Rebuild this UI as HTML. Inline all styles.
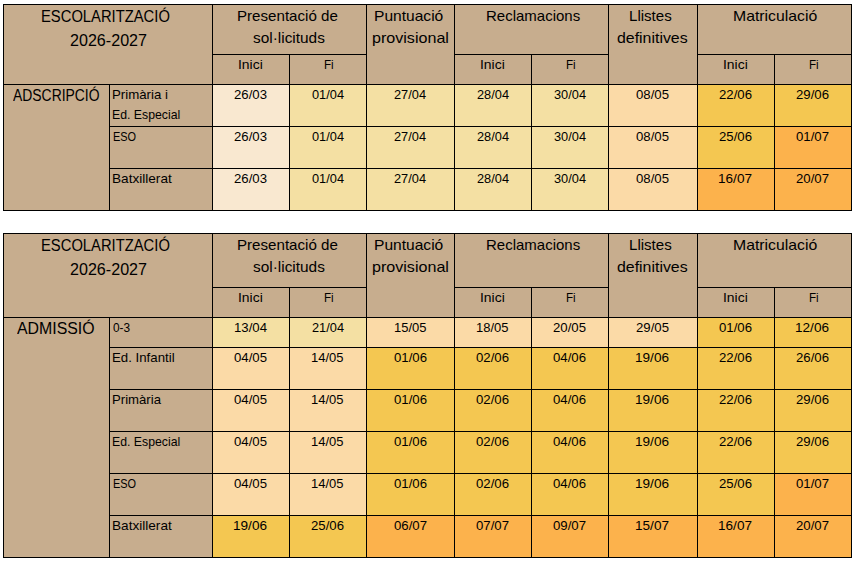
<!DOCTYPE html>
<html lang="ca"><head><meta charset="utf-8"><title>Escolarització 2026-2027</title>
<style>
html,body{margin:0;padding:0;background:#fff;}
body{width:857px;height:562px;position:relative;overflow:hidden;font-family:"Liberation Sans", sans-serif;color:#000;}
.r{position:absolute;}
.t{position:absolute;white-space:pre;line-height:1;transform-origin:0 0;}
</style></head><body>
<div class="r" style="left:3px;top:4px;width:849px;height:207px;background:#000"></div>
<div class="r" style="left:4px;top:5px;width:208px;height:79px;background:#c7ad8e"></div>
<div class="r" style="left:213px;top:5px;width:153px;height:49px;background:#c7ad8e"></div>
<div class="r" style="left:213px;top:55px;width:76px;height:29px;background:#c7ad8e"></div>
<div class="r" style="left:290px;top:55px;width:76px;height:29px;background:#c7ad8e"></div>
<div class="r" style="left:367px;top:5px;width:87px;height:79px;background:#c7ad8e"></div>
<div class="r" style="left:455px;top:5px;width:153px;height:49px;background:#c7ad8e"></div>
<div class="r" style="left:455px;top:55px;width:76px;height:29px;background:#c7ad8e"></div>
<div class="r" style="left:532px;top:55px;width:76px;height:29px;background:#c7ad8e"></div>
<div class="r" style="left:609px;top:5px;width:88px;height:79px;background:#c7ad8e"></div>
<div class="r" style="left:698px;top:5px;width:153px;height:49px;background:#c7ad8e"></div>
<div class="r" style="left:698px;top:55px;width:76px;height:29px;background:#c7ad8e"></div>
<div class="r" style="left:775px;top:55px;width:76px;height:29px;background:#c7ad8e"></div>
<div class="r" style="left:4px;top:85px;width:105px;height:125px;background:#c7ad8e"></div>
<div class="r" style="left:110px;top:85px;width:102px;height:41px;background:#c7ad8e"></div>
<div class="r" style="left:213px;top:85px;width:76px;height:41px;background:#f9e8d0"></div>
<div class="r" style="left:290px;top:85px;width:76px;height:41px;background:#f4e0a3"></div>
<div class="r" style="left:367px;top:85px;width:87px;height:41px;background:#f4e0a3"></div>
<div class="r" style="left:455px;top:85px;width:76px;height:41px;background:#f4e0a3"></div>
<div class="r" style="left:532px;top:85px;width:76px;height:41px;background:#f4e0a3"></div>
<div class="r" style="left:609px;top:85px;width:88px;height:41px;background:#fbdaa7"></div>
<div class="r" style="left:698px;top:85px;width:76px;height:41px;background:#f4c751"></div>
<div class="r" style="left:775px;top:85px;width:76px;height:41px;background:#f4c751"></div>
<div class="r" style="left:110px;top:127px;width:102px;height:41px;background:#c7ad8e"></div>
<div class="r" style="left:213px;top:127px;width:76px;height:41px;background:#f9e8d0"></div>
<div class="r" style="left:290px;top:127px;width:76px;height:41px;background:#f4e0a3"></div>
<div class="r" style="left:367px;top:127px;width:87px;height:41px;background:#f4e0a3"></div>
<div class="r" style="left:455px;top:127px;width:76px;height:41px;background:#f4e0a3"></div>
<div class="r" style="left:532px;top:127px;width:76px;height:41px;background:#f4e0a3"></div>
<div class="r" style="left:609px;top:127px;width:88px;height:41px;background:#fbdaa7"></div>
<div class="r" style="left:698px;top:127px;width:76px;height:41px;background:#f4c751"></div>
<div class="r" style="left:775px;top:127px;width:76px;height:41px;background:#fcb24c"></div>
<div class="r" style="left:110px;top:169px;width:102px;height:41px;background:#c7ad8e"></div>
<div class="r" style="left:213px;top:169px;width:76px;height:41px;background:#f9e8d0"></div>
<div class="r" style="left:290px;top:169px;width:76px;height:41px;background:#f4e0a3"></div>
<div class="r" style="left:367px;top:169px;width:87px;height:41px;background:#f4e0a3"></div>
<div class="r" style="left:455px;top:169px;width:76px;height:41px;background:#f4e0a3"></div>
<div class="r" style="left:532px;top:169px;width:76px;height:41px;background:#f4e0a3"></div>
<div class="r" style="left:609px;top:169px;width:88px;height:41px;background:#fbdaa7"></div>
<div class="r" style="left:698px;top:169px;width:76px;height:41px;background:#fcb24c"></div>
<div class="r" style="left:775px;top:169px;width:76px;height:41px;background:#fcb24c"></div>
<div class="r" style="left:3px;top:233px;width:849px;height:325px;background:#000"></div>
<div class="r" style="left:4px;top:234px;width:208px;height:83px;background:#c7ad8e"></div>
<div class="r" style="left:213px;top:234px;width:153px;height:53px;background:#c7ad8e"></div>
<div class="r" style="left:213px;top:288px;width:76px;height:29px;background:#c7ad8e"></div>
<div class="r" style="left:290px;top:288px;width:76px;height:29px;background:#c7ad8e"></div>
<div class="r" style="left:367px;top:234px;width:87px;height:83px;background:#c7ad8e"></div>
<div class="r" style="left:455px;top:234px;width:153px;height:53px;background:#c7ad8e"></div>
<div class="r" style="left:455px;top:288px;width:76px;height:29px;background:#c7ad8e"></div>
<div class="r" style="left:532px;top:288px;width:76px;height:29px;background:#c7ad8e"></div>
<div class="r" style="left:609px;top:234px;width:88px;height:83px;background:#c7ad8e"></div>
<div class="r" style="left:698px;top:234px;width:153px;height:53px;background:#c7ad8e"></div>
<div class="r" style="left:698px;top:288px;width:76px;height:29px;background:#c7ad8e"></div>
<div class="r" style="left:775px;top:288px;width:76px;height:29px;background:#c7ad8e"></div>
<div class="r" style="left:4px;top:318px;width:105px;height:239px;background:#c7ad8e"></div>
<div class="r" style="left:110px;top:318px;width:102px;height:29px;background:#c7ad8e"></div>
<div class="r" style="left:213px;top:318px;width:76px;height:29px;background:#f4e0a3"></div>
<div class="r" style="left:290px;top:318px;width:76px;height:29px;background:#f4e0a3"></div>
<div class="r" style="left:367px;top:318px;width:87px;height:29px;background:#fbdaa7"></div>
<div class="r" style="left:455px;top:318px;width:76px;height:29px;background:#fbdaa7"></div>
<div class="r" style="left:532px;top:318px;width:76px;height:29px;background:#fbdaa7"></div>
<div class="r" style="left:609px;top:318px;width:88px;height:29px;background:#fbdaa7"></div>
<div class="r" style="left:698px;top:318px;width:76px;height:29px;background:#f4c751"></div>
<div class="r" style="left:775px;top:318px;width:76px;height:29px;background:#f4c751"></div>
<div class="r" style="left:110px;top:348px;width:102px;height:41px;background:#c7ad8e"></div>
<div class="r" style="left:213px;top:348px;width:76px;height:41px;background:#fbdaa7"></div>
<div class="r" style="left:290px;top:348px;width:76px;height:41px;background:#fbdaa7"></div>
<div class="r" style="left:367px;top:348px;width:87px;height:41px;background:#f4c751"></div>
<div class="r" style="left:455px;top:348px;width:76px;height:41px;background:#f4c751"></div>
<div class="r" style="left:532px;top:348px;width:76px;height:41px;background:#f4c751"></div>
<div class="r" style="left:609px;top:348px;width:88px;height:41px;background:#f4c751"></div>
<div class="r" style="left:698px;top:348px;width:76px;height:41px;background:#f4c751"></div>
<div class="r" style="left:775px;top:348px;width:76px;height:41px;background:#f4c751"></div>
<div class="r" style="left:110px;top:390px;width:102px;height:41px;background:#c7ad8e"></div>
<div class="r" style="left:213px;top:390px;width:76px;height:41px;background:#fbdaa7"></div>
<div class="r" style="left:290px;top:390px;width:76px;height:41px;background:#fbdaa7"></div>
<div class="r" style="left:367px;top:390px;width:87px;height:41px;background:#f4c751"></div>
<div class="r" style="left:455px;top:390px;width:76px;height:41px;background:#f4c751"></div>
<div class="r" style="left:532px;top:390px;width:76px;height:41px;background:#f4c751"></div>
<div class="r" style="left:609px;top:390px;width:88px;height:41px;background:#f4c751"></div>
<div class="r" style="left:698px;top:390px;width:76px;height:41px;background:#f4c751"></div>
<div class="r" style="left:775px;top:390px;width:76px;height:41px;background:#f4c751"></div>
<div class="r" style="left:110px;top:432px;width:102px;height:41px;background:#c7ad8e"></div>
<div class="r" style="left:213px;top:432px;width:76px;height:41px;background:#fbdaa7"></div>
<div class="r" style="left:290px;top:432px;width:76px;height:41px;background:#fbdaa7"></div>
<div class="r" style="left:367px;top:432px;width:87px;height:41px;background:#f4c751"></div>
<div class="r" style="left:455px;top:432px;width:76px;height:41px;background:#f4c751"></div>
<div class="r" style="left:532px;top:432px;width:76px;height:41px;background:#f4c751"></div>
<div class="r" style="left:609px;top:432px;width:88px;height:41px;background:#f4c751"></div>
<div class="r" style="left:698px;top:432px;width:76px;height:41px;background:#f4c751"></div>
<div class="r" style="left:775px;top:432px;width:76px;height:41px;background:#f4c751"></div>
<div class="r" style="left:110px;top:474px;width:102px;height:41px;background:#c7ad8e"></div>
<div class="r" style="left:213px;top:474px;width:76px;height:41px;background:#fbdaa7"></div>
<div class="r" style="left:290px;top:474px;width:76px;height:41px;background:#fbdaa7"></div>
<div class="r" style="left:367px;top:474px;width:87px;height:41px;background:#f4c751"></div>
<div class="r" style="left:455px;top:474px;width:76px;height:41px;background:#f4c751"></div>
<div class="r" style="left:532px;top:474px;width:76px;height:41px;background:#f4c751"></div>
<div class="r" style="left:609px;top:474px;width:88px;height:41px;background:#f4c751"></div>
<div class="r" style="left:698px;top:474px;width:76px;height:41px;background:#f4c751"></div>
<div class="r" style="left:775px;top:474px;width:76px;height:41px;background:#fcb24c"></div>
<div class="r" style="left:110px;top:516px;width:102px;height:41px;background:#c7ad8e"></div>
<div class="r" style="left:213px;top:516px;width:76px;height:41px;background:#f4c751"></div>
<div class="r" style="left:290px;top:516px;width:76px;height:41px;background:#f4c751"></div>
<div class="r" style="left:367px;top:516px;width:87px;height:41px;background:#fcb24c"></div>
<div class="r" style="left:455px;top:516px;width:76px;height:41px;background:#fcb24c"></div>
<div class="r" style="left:532px;top:516px;width:76px;height:41px;background:#fcb24c"></div>
<div class="r" style="left:609px;top:516px;width:88px;height:41px;background:#fcb24c"></div>
<div class="r" style="left:698px;top:516px;width:76px;height:41px;background:#fcb24c"></div>
<div class="r" style="left:775px;top:516px;width:76px;height:41px;background:#fcb24c"></div>
<span class="t" style="left:41.01px;top:9.00px;font-size:16.56px;transform:scaleX(0.8928)">ESCOLARITZACIÓ</span>
<span class="t" style="left:70.30px;top:33.00px;font-size:16.56px;transform:scaleX(0.9730)">2026-2027</span>
<span class="t" style="left:237.23px;top:8.00px;font-size:15.52px;transform:scaleX(0.9747)">Presentació de</span>
<span class="t" style="left:253.40px;top:30.00px;font-size:15.52px;transform:scaleX(0.9922)">sol·licituds</span>
<span class="t" style="left:373.75px;top:8.00px;font-size:15.52px;transform:scaleX(1.0040)">Puntuació</span>
<span class="t" style="left:371.84px;top:30.00px;font-size:15.52px;transform:scaleX(1.0368)">provisional</span>
<span class="t" style="left:485.91px;top:8.00px;font-size:15.52px;transform:scaleX(0.9660)">Reclamacions</span>
<span class="t" style="left:628.93px;top:8.00px;font-size:15.52px;transform:scaleX(0.9718)">Llistes</span>
<span class="t" style="left:616.80px;top:30.00px;font-size:15.52px;transform:scaleX(1.0240)">definitives</span>
<span class="t" style="left:733.28px;top:8.00px;font-size:15.52px;transform:scaleX(1.0179)">Matriculació</span>
<span class="t" style="left:238.27px;top:58.00px;font-size:13.45px;transform:scaleX(1.0344)">Inici</span>
<span class="t" style="left:323.79px;top:58.00px;font-size:13.45px;transform:scaleX(0.8664)">Fi</span>
<span class="t" style="left:480.27px;top:58.00px;font-size:13.45px;transform:scaleX(1.0344)">Inici</span>
<span class="t" style="left:565.79px;top:58.00px;font-size:13.45px;transform:scaleX(0.8664)">Fi</span>
<span class="t" style="left:723.27px;top:58.00px;font-size:13.45px;transform:scaleX(1.0344)">Inici</span>
<span class="t" style="left:808.79px;top:58.00px;font-size:13.45px;transform:scaleX(0.8664)">Fi</span>
<span class="t" style="left:13.30px;top:87.00px;font-size:16.25px;transform:scaleX(0.8558)">ADSCRIPCIÓ</span>
<span class="t" style="left:111.91px;top:88.00px;font-size:13.45px;transform:scaleX(0.9864)">Primària i</span>
<span class="t" style="left:112.15px;top:108.00px;font-size:13.45px;transform:scaleX(0.9131)">Ed. Especial</span>
<span class="t" style="left:234.45px;top:88.00px;font-size:13.45px;transform:scaleX(0.9803)">26/03</span>
<span class="t" style="left:312.01px;top:88.00px;font-size:13.45px;transform:scaleX(0.9516)">01/04</span>
<span class="t" style="left:393.95px;top:88.00px;font-size:13.45px;transform:scaleX(0.9516)">27/04</span>
<span class="t" style="left:477.01px;top:88.00px;font-size:13.45px;transform:scaleX(0.9516)">28/04</span>
<span class="t" style="left:554.01px;top:88.00px;font-size:13.45px;transform:scaleX(0.9516)">30/04</span>
<span class="t" style="left:636.45px;top:88.00px;font-size:13.45px;transform:scaleX(0.9803)">08/05</span>
<span class="t" style="left:719.45px;top:88.00px;font-size:13.45px;transform:scaleX(0.9803)">22/06</span>
<span class="t" style="left:796.45px;top:88.00px;font-size:13.45px;transform:scaleX(0.9803)">29/06</span>
<span class="t" style="left:112.69px;top:130.00px;font-size:13.45px;transform:scaleX(0.8134)">ESO</span>
<span class="t" style="left:234.45px;top:130.00px;font-size:13.45px;transform:scaleX(0.9803)">26/03</span>
<span class="t" style="left:312.01px;top:130.00px;font-size:13.45px;transform:scaleX(0.9516)">01/04</span>
<span class="t" style="left:393.95px;top:130.00px;font-size:13.45px;transform:scaleX(0.9516)">27/04</span>
<span class="t" style="left:477.01px;top:130.00px;font-size:13.45px;transform:scaleX(0.9516)">28/04</span>
<span class="t" style="left:554.01px;top:130.00px;font-size:13.45px;transform:scaleX(0.9516)">30/04</span>
<span class="t" style="left:636.45px;top:130.00px;font-size:13.45px;transform:scaleX(0.9803)">08/05</span>
<span class="t" style="left:719.45px;top:130.00px;font-size:13.45px;transform:scaleX(0.9803)">25/06</span>
<span class="t" style="left:796.45px;top:130.00px;font-size:13.45px;transform:scaleX(0.9803)">01/07</span>
<span class="t" style="left:111.89px;top:172.00px;font-size:13.45px;transform:scaleX(1.0126)">Batxillerat</span>
<span class="t" style="left:234.45px;top:172.00px;font-size:13.45px;transform:scaleX(0.9803)">26/03</span>
<span class="t" style="left:312.01px;top:172.00px;font-size:13.45px;transform:scaleX(0.9516)">01/04</span>
<span class="t" style="left:393.95px;top:172.00px;font-size:13.45px;transform:scaleX(0.9516)">27/04</span>
<span class="t" style="left:477.01px;top:172.00px;font-size:13.45px;transform:scaleX(0.9516)">28/04</span>
<span class="t" style="left:554.01px;top:172.00px;font-size:13.45px;transform:scaleX(0.9516)">30/04</span>
<span class="t" style="left:636.45px;top:172.00px;font-size:13.45px;transform:scaleX(0.9803)">08/05</span>
<span class="t" style="left:718.44px;top:172.00px;font-size:13.45px;transform:scaleX(1.0108)">16/07</span>
<span class="t" style="left:796.45px;top:172.00px;font-size:13.45px;transform:scaleX(0.9803)">20/07</span>
<span class="t" style="left:41.01px;top:238.00px;font-size:16.56px;transform:scaleX(0.8928)">ESCOLARITZACIÓ</span>
<span class="t" style="left:70.30px;top:262.00px;font-size:16.56px;transform:scaleX(0.9730)">2026-2027</span>
<span class="t" style="left:237.23px;top:237.00px;font-size:15.52px;transform:scaleX(0.9747)">Presentació de</span>
<span class="t" style="left:253.40px;top:259.00px;font-size:15.52px;transform:scaleX(0.9922)">sol·licituds</span>
<span class="t" style="left:373.75px;top:237.00px;font-size:15.52px;transform:scaleX(1.0040)">Puntuació</span>
<span class="t" style="left:371.84px;top:259.00px;font-size:15.52px;transform:scaleX(1.0368)">provisional</span>
<span class="t" style="left:485.91px;top:237.00px;font-size:15.52px;transform:scaleX(0.9660)">Reclamacions</span>
<span class="t" style="left:628.93px;top:237.00px;font-size:15.52px;transform:scaleX(0.9718)">Llistes</span>
<span class="t" style="left:616.80px;top:259.00px;font-size:15.52px;transform:scaleX(1.0240)">definitives</span>
<span class="t" style="left:733.28px;top:237.00px;font-size:15.52px;transform:scaleX(1.0179)">Matriculació</span>
<span class="t" style="left:238.27px;top:291.00px;font-size:13.45px;transform:scaleX(1.0344)">Inici</span>
<span class="t" style="left:323.79px;top:291.00px;font-size:13.45px;transform:scaleX(0.8664)">Fi</span>
<span class="t" style="left:480.27px;top:291.00px;font-size:13.45px;transform:scaleX(1.0344)">Inici</span>
<span class="t" style="left:565.79px;top:291.00px;font-size:13.45px;transform:scaleX(0.8664)">Fi</span>
<span class="t" style="left:723.27px;top:291.00px;font-size:13.45px;transform:scaleX(1.0344)">Inici</span>
<span class="t" style="left:808.79px;top:291.00px;font-size:13.45px;transform:scaleX(0.8664)">Fi</span>
<span class="t" style="left:17.10px;top:320.00px;font-size:16.25px;transform:scaleX(0.9769)">ADMISSIÓ</span>
<span class="t" style="left:112.80px;top:322.00px;font-size:12.42px;transform:scaleX(0.9539)">0-3</span>
<span class="t" style="left:234.43px;top:321.00px;font-size:13.45px;transform:scaleX(0.9803)">13/04</span>
<span class="t" style="left:312.01px;top:321.00px;font-size:13.45px;transform:scaleX(0.9516)">21/04</span>
<span class="t" style="left:393.54px;top:321.00px;font-size:13.45px;transform:scaleX(0.9662)">15/05</span>
<span class="t" style="left:476.04px;top:321.00px;font-size:13.45px;transform:scaleX(0.9662)">18/05</span>
<span class="t" style="left:553.45px;top:321.00px;font-size:13.45px;transform:scaleX(0.9803)">20/05</span>
<span class="t" style="left:636.45px;top:321.00px;font-size:13.45px;transform:scaleX(0.9803)">29/05</span>
<span class="t" style="left:719.45px;top:321.00px;font-size:13.45px;transform:scaleX(0.9803)">01/06</span>
<span class="t" style="left:795.44px;top:321.00px;font-size:13.45px;transform:scaleX(1.0108)">12/06</span>
<span class="t" style="left:111.91px;top:351.00px;font-size:13.45px;transform:scaleX(0.9855)">Ed. Infantil</span>
<span class="t" style="left:234.45px;top:351.00px;font-size:13.45px;transform:scaleX(0.9803)">04/05</span>
<span class="t" style="left:311.04px;top:351.00px;font-size:13.45px;transform:scaleX(0.9662)">14/05</span>
<span class="t" style="left:393.95px;top:351.00px;font-size:13.45px;transform:scaleX(0.9803)">01/06</span>
<span class="t" style="left:476.45px;top:351.00px;font-size:13.45px;transform:scaleX(0.9803)">02/06</span>
<span class="t" style="left:553.45px;top:351.00px;font-size:13.45px;transform:scaleX(0.9803)">04/06</span>
<span class="t" style="left:635.44px;top:351.00px;font-size:13.45px;transform:scaleX(1.0108)">19/06</span>
<span class="t" style="left:719.45px;top:351.00px;font-size:13.45px;transform:scaleX(0.9803)">22/06</span>
<span class="t" style="left:796.45px;top:351.00px;font-size:13.45px;transform:scaleX(0.9803)">26/06</span>
<span class="t" style="left:111.92px;top:393.00px;font-size:13.45px;transform:scaleX(0.9788)">Primària</span>
<span class="t" style="left:234.45px;top:393.00px;font-size:13.45px;transform:scaleX(0.9803)">04/05</span>
<span class="t" style="left:311.04px;top:393.00px;font-size:13.45px;transform:scaleX(0.9662)">14/05</span>
<span class="t" style="left:393.95px;top:393.00px;font-size:13.45px;transform:scaleX(0.9803)">01/06</span>
<span class="t" style="left:476.45px;top:393.00px;font-size:13.45px;transform:scaleX(0.9803)">02/06</span>
<span class="t" style="left:553.45px;top:393.00px;font-size:13.45px;transform:scaleX(0.9803)">04/06</span>
<span class="t" style="left:635.44px;top:393.00px;font-size:13.45px;transform:scaleX(1.0108)">19/06</span>
<span class="t" style="left:719.45px;top:393.00px;font-size:13.45px;transform:scaleX(0.9803)">22/06</span>
<span class="t" style="left:796.45px;top:393.00px;font-size:13.45px;transform:scaleX(0.9803)">29/06</span>
<span class="t" style="left:112.15px;top:435.00px;font-size:13.45px;transform:scaleX(0.9131)">Ed. Especial</span>
<span class="t" style="left:234.45px;top:435.00px;font-size:13.45px;transform:scaleX(0.9803)">04/05</span>
<span class="t" style="left:311.04px;top:435.00px;font-size:13.45px;transform:scaleX(0.9662)">14/05</span>
<span class="t" style="left:393.95px;top:435.00px;font-size:13.45px;transform:scaleX(0.9803)">01/06</span>
<span class="t" style="left:476.45px;top:435.00px;font-size:13.45px;transform:scaleX(0.9803)">02/06</span>
<span class="t" style="left:553.45px;top:435.00px;font-size:13.45px;transform:scaleX(0.9803)">04/06</span>
<span class="t" style="left:635.44px;top:435.00px;font-size:13.45px;transform:scaleX(1.0108)">19/06</span>
<span class="t" style="left:719.45px;top:435.00px;font-size:13.45px;transform:scaleX(0.9803)">22/06</span>
<span class="t" style="left:796.45px;top:435.00px;font-size:13.45px;transform:scaleX(0.9803)">29/06</span>
<span class="t" style="left:112.69px;top:477.00px;font-size:13.45px;transform:scaleX(0.8134)">ESO</span>
<span class="t" style="left:234.45px;top:477.00px;font-size:13.45px;transform:scaleX(0.9803)">04/05</span>
<span class="t" style="left:311.04px;top:477.00px;font-size:13.45px;transform:scaleX(0.9662)">14/05</span>
<span class="t" style="left:393.95px;top:477.00px;font-size:13.45px;transform:scaleX(0.9803)">01/06</span>
<span class="t" style="left:476.45px;top:477.00px;font-size:13.45px;transform:scaleX(0.9803)">02/06</span>
<span class="t" style="left:553.45px;top:477.00px;font-size:13.45px;transform:scaleX(0.9803)">04/06</span>
<span class="t" style="left:635.44px;top:477.00px;font-size:13.45px;transform:scaleX(1.0108)">19/06</span>
<span class="t" style="left:719.45px;top:477.00px;font-size:13.45px;transform:scaleX(0.9803)">25/06</span>
<span class="t" style="left:796.45px;top:477.00px;font-size:13.45px;transform:scaleX(0.9803)">01/07</span>
<span class="t" style="left:111.89px;top:519.00px;font-size:13.45px;transform:scaleX(1.0126)">Batxillerat</span>
<span class="t" style="left:233.44px;top:519.00px;font-size:13.45px;transform:scaleX(1.0108)">19/06</span>
<span class="t" style="left:311.45px;top:519.00px;font-size:13.45px;transform:scaleX(0.9803)">25/06</span>
<span class="t" style="left:393.95px;top:519.00px;font-size:13.45px;transform:scaleX(0.9803)">06/07</span>
<span class="t" style="left:476.45px;top:519.00px;font-size:13.45px;transform:scaleX(0.9803)">07/07</span>
<span class="t" style="left:553.45px;top:519.00px;font-size:13.45px;transform:scaleX(0.9803)">09/07</span>
<span class="t" style="left:635.44px;top:519.00px;font-size:13.45px;transform:scaleX(1.0108)">15/07</span>
<span class="t" style="left:718.44px;top:519.00px;font-size:13.45px;transform:scaleX(1.0108)">16/07</span>
<span class="t" style="left:796.45px;top:519.00px;font-size:13.45px;transform:scaleX(0.9803)">20/07</span>
</body></html>
